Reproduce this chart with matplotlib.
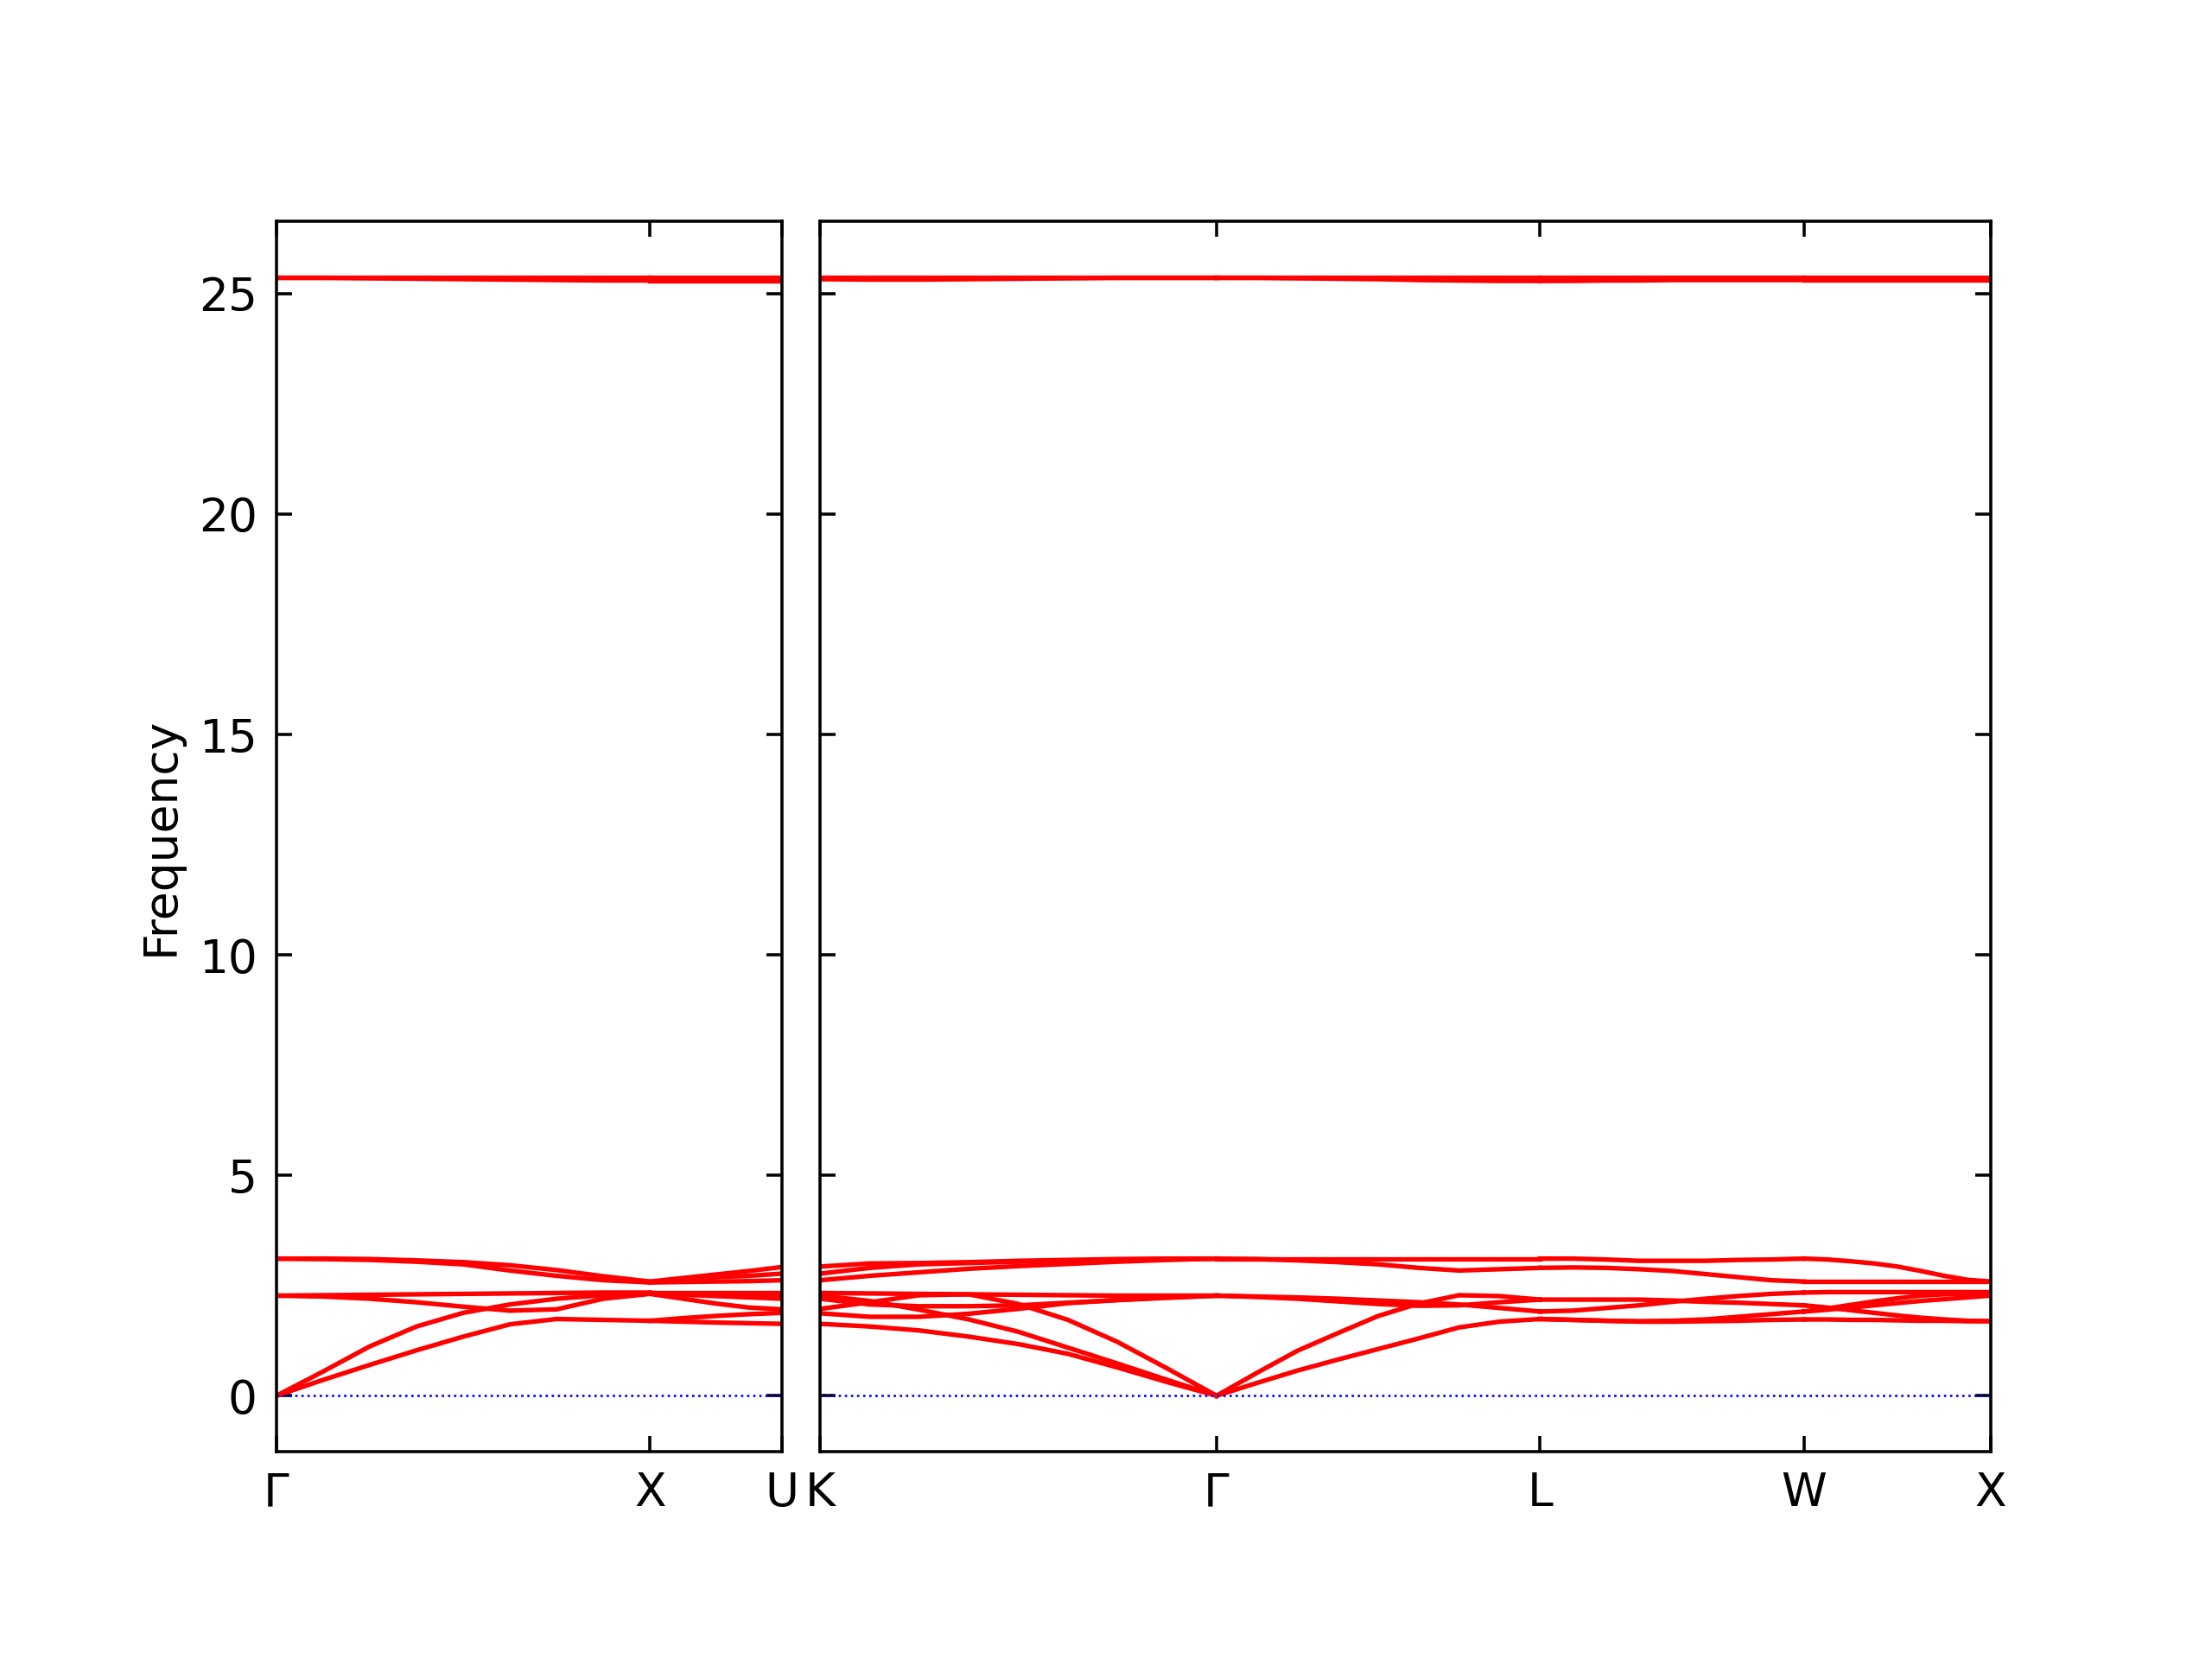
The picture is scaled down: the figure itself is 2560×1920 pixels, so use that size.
import numpy as np
import matplotlib.pyplot as plt

# path segments (length in 2pi/a) and node labels
left_lengths = [1.0, 0.354]
right_lengths = [1.061, 0.866, 0.707, 0.5]
left_labels = ['Γ', 'X', 'U']
right_labels = ['K', 'Γ', 'L', 'W', 'X']

# band frequencies sampled evenly along each segment
gx_bands = [
    [3.11, 3.11, 3.10, 3.07, 3.03, 2.96, 2.85, 2.71, 2.59],
    [3.11, 3.10, 3.08, 3.04, 2.98, 2.84, 2.72, 2.62, 2.57],
    [2.27, 2.28, 2.29, 2.30, 2.31, 2.32, 2.33, 2.34, 2.34],
    [2.27, 2.25, 2.20, 2.12, 2.02, 1.93, 1.96, 2.20, 2.31],
    [0.00, 0.55, 1.12, 1.57, 1.88, 2.07, 2.20, 2.28, 2.32],
    [0.00, 0.36, 0.70, 1.03, 1.34, 1.62, 1.74, 1.72, 1.70],
    [25.37, 25.37, 25.37, 25.37, 25.37, 25.37, 25.37, 25.37, 25.37],
    [25.36, 25.36, 25.35, 25.34, 25.33, 25.32, 25.31, 25.30, 25.30],
]
xu_bands = [
    [2.59, 2.67, 2.75, 2.83, 2.92],
    [2.57, 2.64, 2.69, 2.72, 2.77],
    [2.57, 2.58, 2.59, 2.60, 2.62],
    [2.34, 2.34, 2.34, 2.34, 2.34],
    [2.33, 2.31, 2.30, 2.28, 2.27],
    [2.32, 2.29, 2.26, 2.23, 2.20],
    [2.31, 2.20, 2.09, 2.00, 1.96],
    [1.70, 1.76, 1.81, 1.85, 1.88],
    [1.70, 1.68, 1.66, 1.645, 1.63],
    [25.37, 25.37, 25.37, 25.37, 25.37],
    [25.30, 25.30, 25.30, 25.30, 25.30],
]
kg_bands = [
    [2.93, 3.00, 3.01, 3.03, 3.06, 3.08, 3.10, 3.11, 3.11],
    [2.77, 2.90, 2.98, 3.01, 3.04, 3.06, 3.08, 3.10, 3.11],
    [2.62, 2.72, 2.80, 2.88, 2.94, 2.99, 3.04, 3.08, 3.11],
    [2.33, 2.32, 2.31, 2.30, 2.29, 2.28, 2.27, 2.27, 2.27],
    [2.27, 2.15, 1.95, 1.73, 1.45, 1.09, 0.73, 0.36, 0.00],
    [1.97, 2.12, 2.28, 2.30, 2.08, 1.72, 1.22, 0.62, 0.00],
    [1.87, 1.79, 1.79, 1.86, 1.97, 2.10, 2.17, 2.23, 2.27],
    [2.20, 2.07, 2.03, 2.03, 2.05, 2.11, 2.17, 2.22, 2.27],
    [1.63, 1.57, 1.48, 1.34, 1.17, 0.95, 0.64, 0.31, 0.00],
    [25.37, 25.37, 25.37, 25.37, 25.37, 25.37, 25.37, 25.37, 25.37],
    [25.33, 25.32, 25.32, 25.33, 25.34, 25.35, 25.36, 25.36, 25.36],
]
gl_bands = [
    [3.11, 3.11, 3.11, 3.11, 3.11, 3.11, 3.11, 3.11, 3.11],
    [3.11, 3.10, 3.07, 3.03, 2.98, 2.90, 2.84, 2.87, 2.90],
    [2.27, 2.25, 2.23, 2.20, 2.16, 2.12, 2.07, 1.99, 1.91],
    [2.27, 2.24, 2.20, 2.14, 2.08, 2.04, 2.05, 2.12, 2.18],
    [0.00, 0.52, 1.02, 1.42, 1.81, 2.09, 2.28, 2.26, 2.18],
    [0.00, 0.29, 0.57, 0.82, 1.06, 1.30, 1.55, 1.68, 1.74],
    [25.37, 25.37, 25.37, 25.37, 25.37, 25.37, 25.37, 25.37, 25.37],
    [25.36, 25.36, 25.35, 25.34, 25.33, 25.31, 25.30, 25.29, 25.29],
]
lw_bands = [
    [3.11, 3.11, 3.09, 3.06, 3.06, 3.06, 3.08, 3.09, 3.11],
    [2.90, 2.91, 2.90, 2.87, 2.83, 2.76, 2.69, 2.62, 2.59],
    [2.18, 2.18, 2.18, 2.18, 2.16, 2.13, 2.11, 2.08, 2.05],
    [1.91, 1.93, 1.99, 2.05, 2.13, 2.20, 2.26, 2.31, 2.34],
    [1.74, 1.72, 1.70, 1.68, 1.68, 1.69, 1.70, 1.72, 1.73],
    [1.74, 1.72, 1.70, 1.69, 1.70, 1.73, 1.79, 1.85, 1.91],
    [25.37, 25.37, 25.37, 25.37, 25.37, 25.37, 25.37, 25.37, 25.37],
    [25.29, 25.29, 25.30, 25.30, 25.31, 25.31, 25.31, 25.31, 25.31],
]
wx_bands = [
    [3.11, 3.09, 3.05, 3.00, 2.93, 2.83, 2.72, 2.63, 2.59],
    [2.59, 2.59, 2.59, 2.59, 2.59, 2.59, 2.59, 2.59, 2.59],
    [2.34, 2.35, 2.35, 2.35, 2.35, 2.35, 2.35, 2.35, 2.35],
    [2.05, 2.00, 1.94, 1.88, 1.82, 1.77, 1.73, 1.70, 1.69],
    [1.91, 1.98, 2.06, 2.14, 2.21, 2.27, 2.30, 2.32, 2.32],
    [1.91, 1.95, 2.00, 2.05, 2.10, 2.15, 2.19, 2.23, 2.27],
    [1.73, 1.73, 1.72, 1.72, 1.71, 1.70, 1.70, 1.69, 1.69],
    [25.37, 25.37, 25.37, 25.37, 25.37, 25.37, 25.37, 25.37, 25.37],
    [25.31, 25.31, 25.31, 25.31, 25.31, 25.31, 25.31, 25.31, 25.31],
]

plt.rcParams['font.family'] = 'DejaVu Sans'
plt.rcParams['font.size'] = 12

fig, (ax1, ax2) = plt.subplots(
    1, 2, figsize=(8, 6), dpi=320, sharey=True,
    gridspec_kw={'width_ratios': [sum(left_lengths), sum(right_lengths)]})
fig.subplots_adjust(left=0.125, right=0.9, bottom=0.125, top=0.8665, wspace=0.0455)


def draw_panel(ax, lengths, segments, labels):
    start = 0.0
    nodes = [0.0]
    for length, bands in zip(lengths, segments):
        for band in bands:
            k = start + np.linspace(0, length, len(band))
            ax.plot(k, band, color='r', lw=1.2)
        start += length
        nodes.append(start)
    ax.axhline(0, color='b', ls=':', lw=0.6)
    ax.set_xlim(0, start)
    ax.set_xticks(nodes)
    ax.set_xticklabels(labels)
    ax.tick_params(direction='in', top=True, right=True, length=4, width=0.8,
                   labelsize=12, pad=5)


draw_panel(ax1, left_lengths, [gx_bands, xu_bands], left_labels)
draw_panel(ax2, right_lengths, [kg_bands, gl_bands, lw_bands, wx_bands], right_labels)
ax2.tick_params(labelleft=False)
ax1.set_yticks([0, 5, 10, 15, 20, 25])
ax1.set_ylabel('Frequency')

fig.savefig('out.png', dpi=320)
